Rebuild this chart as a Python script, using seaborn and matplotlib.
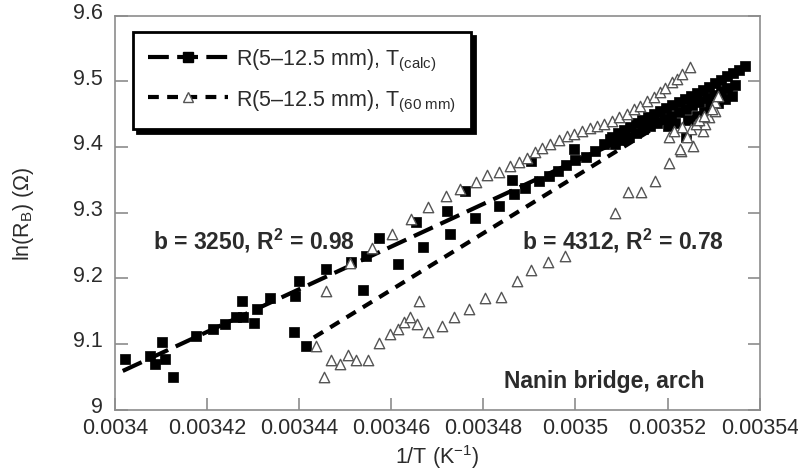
"""
plot.py
-------
ln(R_B) vs 1/T for the Nanin bridge arch, two temperature sources.
Saves out.png
"""

import numpy as np
import pandas as pd
import matplotlib
matplotlib.use("Agg")
import matplotlib.pyplot as plt
import matplotlib.transforms as mtransforms
from matplotlib.lines import Line2D
import seaborn as sns

# ── Data (x in units of 1e-5 K^-1) ───────────────────────────────────────────
calc_x = [340.22, 340.76, 341.03, 340.87, 341.09, 341.26, 341.77, 342.14, 342.40, 342.62,
          342.77, 342.79, 343.01, 343.08, 343.36, 343.90, 343.99, 343.88, 344.14, 344.58,
          345.13, 345.39, 345.45, 345.74, 346.15, 346.54, 346.70, 347.22, 347.28, 347.61,
          347.81, 348.33, 348.62, 348.66, 348.90, 349.03, 349.20, 349.42, 349.62, 349.79,
          349.97, 349.99, 350.23, 350.43, 350.62, 350.75,
          350.80, 350.93, 351.06, 351.19, 351.32, 351.45, 351.58, 351.71, 351.84, 351.97,
          352.10, 352.24, 352.37, 352.50, 352.63, 352.76, 352.89, 353.02, 353.15, 353.28,
          353.41, 353.54, 353.68,
          350.86, 351.01, 351.17, 351.32, 351.47, 351.62, 351.78, 351.93, 352.08, 352.24,
          352.39, 352.54, 352.69, 352.85, 353.00, 353.15, 353.30, 353.46,
          352.00, 352.17, 352.39, 352.45, 352.63, 352.78, 352.93, 353.09, 353.24, 353.39]
calc_y = [9.077, 9.082, 9.103, 9.069, 9.077, 9.050, 9.112, 9.123, 9.130, 9.141,
          9.165, 9.141, 9.132, 9.153, 9.170, 9.173, 9.196, 9.118, 9.097, 9.214,
          9.225, 9.182, 9.234, 9.261, 9.222, 9.286, 9.248, 9.302, 9.268, 9.333,
          9.292, 9.310, 9.350, 9.328, 9.337, 9.379, 9.348, 9.356, 9.363, 9.373,
          9.397, 9.380, 9.385, 9.394, 9.405, 9.412,
          9.415, 9.421, 9.426, 9.431, 9.437, 9.441, 9.446, 9.450, 9.455, 9.460,
          9.464, 9.469, 9.473, 9.478, 9.482, 9.487, 9.492, 9.498, 9.502, 9.508,
          9.513, 9.518, 9.524,
          9.405, 9.411, 9.415, 9.421, 9.428, 9.432, 9.437, 9.443, 9.447, 9.454,
          9.458, 9.464, 9.469, 9.475, 9.479, 9.486, 9.490, 9.495,
          9.432, 9.437, 9.415, 9.441, 9.447, 9.454, 9.461, 9.467, 9.473, 9.478]

t60_x = [344.36, 344.54, 344.69, 344.89, 345.06, 345.23, 345.50, 345.74, 345.98, 346.15,
         346.28, 346.41, 346.56, 346.61, 346.80, 347.11, 347.37, 347.68, 348.03, 348.38,
         348.72, 349.03, 349.40, 349.77, 350.86, 351.15, 351.43, 351.73, 352.04, 352.30,
         352.56,
         344.58, 345.10, 345.58, 346.02, 346.43, 346.80, 347.18, 347.50, 347.83, 348.07,
         348.33, 348.57, 348.77, 348.94, 349.12, 349.27, 349.44, 349.64, 349.81, 349.97,
         350.14, 350.32, 350.47, 350.62, 350.80, 350.95, 351.12, 351.28, 351.41, 351.56,
         351.71, 351.84, 351.95, 352.10, 352.21, 352.32, 352.48,
         352.04, 352.15, 352.32, 352.50, 352.76, 352.82, 352.91, 353.02, 353.04, 353.09,
         352.28, 352.61, 352.69, 352.80, 352.96, 352.43]
t60_y = [9.097, 9.050, 9.075, 9.069, 9.083, 9.075, 9.075, 9.101, 9.115, 9.123,
         9.133, 9.141, 9.130, 9.165, 9.118, 9.127, 9.141, 9.153, 9.170, 9.171,
         9.196, 9.213, 9.225, 9.234, 9.300, 9.332, 9.332, 9.348, 9.376, 9.394,
         9.402,
         9.181, 9.223, 9.246, 9.268, 9.290, 9.309, 9.325, 9.336, 9.347, 9.357,
         9.362, 9.371, 9.377, 9.383, 9.393, 9.399, 9.405, 9.411, 9.417, 9.420,
         9.425, 9.429, 9.432, 9.435, 9.440, 9.446, 9.450, 9.458, 9.463, 9.470,
         9.476, 9.484, 9.490, 9.499, 9.504, 9.511, 9.522,
         9.415, 9.425, 9.431, 9.428, 9.425, 9.435, 9.446, 9.455, 9.469, 9.478,
         9.397, 9.435, 9.441, 9.447, 9.458, 9.415]

# regression lines (end points)
fit_calc_x = [340.17, 353.50]
fit_calc_y = [9.059, 9.492]
fit_t60_x = [344.32, 352.87]
fit_t60_y = [9.110, 9.479]

x_ticks = [0.0034, 0.00342, 0.00344, 0.00346, 0.00348, 0.0035, 0.00352, 0.00354]
x_tick_labels = ["0.0034", "0.00342", "0.00344", "0.00346", "0.00348",
                 "0.0035", "0.00352", "0.00354"]
y_ticks = [9.0, 9.1, 9.2, 9.3, 9.4, 9.5, 9.6]
y_tick_labels = ["9", "9.1", "9.2", "9.3", "9.4", "9.5", "9.6"]

label_calc = r"R(5–12.5 mm), T$_{\rm (calc)}$"
label_t60 = r"R(5–12.5 mm), T$_{\rm (60\ mm)}$"

# ── Style ────────────────────────────────────────────────────────────────────
sns.set_style("ticks")
plt.rcParams["font.family"] = ["Liberation Sans", "DejaVu Sans"]
plt.rcParams["mathtext.fontset"] = "custom"
plt.rcParams["mathtext.rm"] = "Liberation Sans"
plt.rcParams["mathtext.it"] = "Liberation Sans:italic"
plt.rcParams["mathtext.bf"] = "Liberation Sans:bold"

TEXT = "#2b2b2b"
SPINE = "#8c8c8c"
TRI_EDGE = "#555555"
FS = 15.5
FS_NOTE = 16.5


def plot(out="out.png"):
    calc = pd.DataFrame({"x": np.array(calc_x) * 1e-5, "y": calc_y})
    t60 = pd.DataFrame({"x": np.array(t60_x) * 1e-5, "y": t60_y})

    fig, ax = plt.subplots(figsize=(7.98, 4.77), dpi=100)
    fig.subplots_adjust(left=0.144, right=0.952, bottom=0.139, top=0.965)

    long_dash = (0, (5.0, 2.0))
    short_dash = (0, (2.6, 2.0))

    ax.plot(np.array(fit_calc_x) * 1e-5, fit_calc_y, color="black", lw=3,
            linestyle=long_dash, zorder=2)
    ax.plot(np.array(fit_t60_x) * 1e-5, fit_t60_y, color="black", lw=3,
            linestyle=short_dash, zorder=2)

    sns.scatterplot(data=calc, x="x", y="y", ax=ax, marker="s", s=46,
                    color="black", edgecolor="black", linewidth=0.5, zorder=3)
    sns.scatterplot(data=t60, x="x", y="y", ax=ax, marker="^", s=56,
                    facecolor="white", edgecolor=TRI_EDGE, linewidth=1.0, zorder=4)

    ax.set_xlim(0.0034, 0.00354)
    ax.set_ylim(9.0, 9.6)
    ax.set_xticks(x_ticks)
    ax.set_xticklabels(x_tick_labels)
    ax.set_yticks(y_ticks)
    ax.set_yticklabels(y_tick_labels)
    ax.tick_params(direction="in", length=9, width=1.2, color=SPINE,
                   labelsize=FS, labelcolor=TEXT, right=True)
    ax.tick_params(axis="y", pad=9)
    ax.tick_params(axis="x", pad=5)
    # the y labels sit a touch above their ticks in the reference
    lift = mtransforms.ScaledTranslation(0, 4 / 72, fig.dpi_scale_trans)
    for lab in ax.get_yticklabels():
        lab.set_transform(lab.get_transform() + lift)
    for sp in ax.spines.values():
        sp.set_visible(True)
        sp.set_color(SPINE)
        sp.set_linewidth(1.2)

    ax.set_xlabel("1/T (K$^{-1}$)", fontsize=FS, color=TEXT, labelpad=3)
    ax.set_ylabel(r"ln(R$_{\rm B}$) ($\Omega$)", fontsize=FS, color=TEXT, labelpad=26)

    ax.text(0.0034083, 9.258, r"b = 3250, R$^{\mathbf{2}}$ = 0.98", fontsize=FS_NOTE,
            fontweight="bold", color=TEXT, va="center", ha="left")
    ax.text(0.0034883, 9.258, r"b = 4312, R$^{\mathbf{2}}$ = 0.78", fontsize=FS_NOTE,
            fontweight="bold", color=TEXT, va="center", ha="left")
    ax.text(0.0034844, 9.045, "Nanin bridge, arch", fontsize=FS_NOTE,
            fontweight="bold", color=TEXT, va="center", ha="left")

    handles = [
        Line2D([], [], color="black", lw=3, linestyle=long_dash, marker="s",
               markersize=7, markerfacecolor="black"),
        Line2D([], [], color="black", lw=3, linestyle=short_dash, marker="^",
               markersize=7.5, markerfacecolor="white", markeredgecolor=TRI_EDGE),
    ]
    leg = ax.legend(handles, [label_calc, label_t60], loc="upper left",
                    bbox_to_anchor=(0.028, 0.958), borderaxespad=0, fontsize=FS,
                    handlelength=3.7, numpoints=1, frameon=True, fancybox=False,
                    borderpad=0.7, labelspacing=0.65, handletextpad=0.4,
                    shadow={"color": "black", "alpha": 1.0, "ox": 3, "oy": -3})
    leg.get_frame().set_edgecolor("black")
    leg.get_frame().set_linewidth(2.0)
    leg.get_frame().set_alpha(1.0)
    for t in leg.get_texts():
        t.set_color(TEXT)

    fig.savefig(out, dpi=100)
    plt.close(fig)


if __name__ == "__main__":
    plot()
